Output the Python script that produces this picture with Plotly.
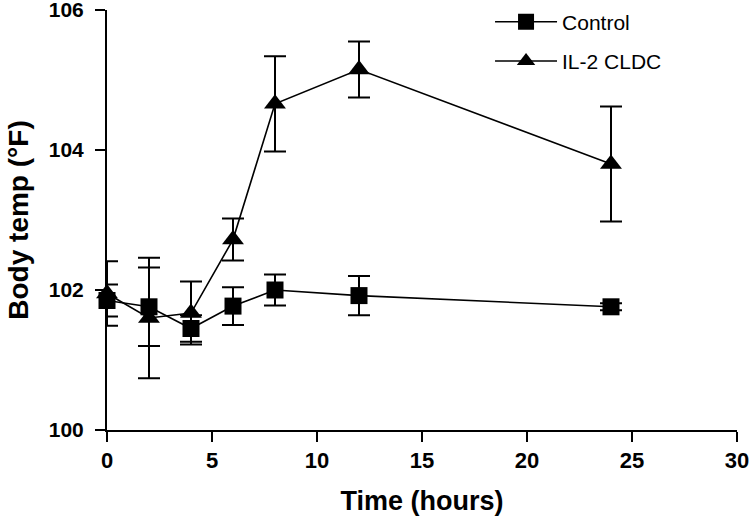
import plotly.graph_objects as go

time_h = [0, 2, 4, 6, 8, 12, 24]
control_mean = [101.85, 101.76, 101.45, 101.77, 102.0, 101.92, 101.76]
control_err = [0.23, 0.56, 0.19, 0.27, 0.22, 0.28, 0.05]
il2_mean = [101.95, 101.6, 101.67, 102.72, 104.66, 105.15, 103.8]
il2_err = [0.46, 0.86, 0.45, 0.30, 0.68, 0.40, 0.82]

series_names = ["Control", "IL-2 CLDC"]
x_ticks = [0, 5, 10, 15, 20, 25, 30]
y_ticks = [100, 102, 104, 106]

FONT = "Liberation Sans, Arial, sans-serif"

fig = go.Figure()
fig.add_trace(go.Scatter(
    x=time_h, y=control_mean, name=series_names[0], mode="lines+markers",
    legendgroup="c",
    line=dict(color="black", width=1.6),
    marker=dict(symbol="square", size=17, color="black"),
    error_y=dict(type="data", array=control_err, visible=True, color="black", thickness=2, width=11),
    cliponaxis=False,
))
fig.add_trace(go.Scatter(
    x=time_h, y=il2_mean, name=series_names[1], mode="lines+markers",
    legendgroup="i",
    line=dict(color="black", width=1.6),
    marker=dict(symbol="triangle-up", size=19, color="black"),
    error_y=dict(type="data", array=il2_err, visible=True, color="black", thickness=2, width=11),
    cliponaxis=False,
))

fig.update_layout(
    width=750, height=517,
    margin=dict(l=107, r=13, t=10, b=87, autoexpand=False),
    paper_bgcolor="white", plot_bgcolor="white",
    font=dict(family=FONT, color="black"),
    showlegend=True,
    legend=dict(
        x=0.608, y=1.02, xanchor="left", yanchor="top",
        font=dict(family=FONT, size=21, color="black"),
        itemwidth=62, tracegroupgap=9,
        bgcolor="rgba(0,0,0,0)",
    ),
    xaxis=dict(
        range=[0, 30], tickvals=x_ticks, ticktext=[str(v) for v in x_ticks],
        showline=True, linecolor="black", linewidth=2,
        ticks="outside", ticklen=10, tickwidth=2, tickcolor="black",
        showgrid=False, zeroline=False, automargin=False, ticklabeloverflow="allow",
        tickfont=dict(family=FONT, size=22, weight="bold"),
        title=dict(text="Time (hours)", font=dict(family=FONT, size=27, weight="bold"), standoff=19),
    ),
    yaxis=dict(
        range=[100, 106], tickvals=y_ticks, ticktext=[str(v) for v in y_ticks],
        showline=True, linecolor="black", linewidth=2,
        ticks="outside", ticklen=10, tickwidth=2, tickcolor="black",
        showgrid=False, zeroline=False, automargin=False, ticklabeloverflow="allow",
        ticklabelstandoff=7,
        tickfont=dict(family=FONT, size=21, weight="bold"),
        title=dict(text="Body temp (°F)", font=dict(family=FONT, size=28, weight="bold"), standoff=12),
    ),
)

fig.write_html(
    "out.html",
    config={"displayModeBar": False},
    post_script="document.body.style.margin='0';document.body.style.padding='0';",
)
